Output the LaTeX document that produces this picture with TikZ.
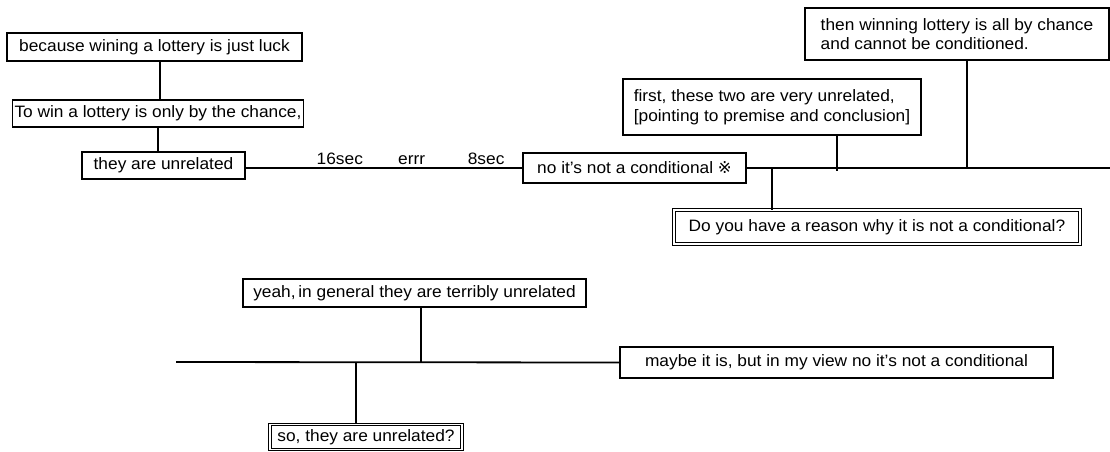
\documentclass[tikz,border=0pt]{standalone}
\usepackage{fontspec}
\setmainfont[FakeStretch=1.05]{Liberation Sans}
\newfontfamily\symfont{DejaVu Sans}
\begin{document}
\begin{tikzpicture}[x=1pt, y=-1pt,
    box/.style={draw, line width=1.9pt, inner sep=2pt, align=left,
      font=\fontsize{16.5}{19.5}\selectfont},
    dbox/.style={draw, double, double distance=1.6pt, line width=0.9pt,
      inner sep=2pt, font=\fontsize{16.5}{19.5}\selectfont},
    link/.style={line width=1.8pt},
    lbl/.style={font=\fontsize{16.5}{19.5}\selectfont, inner sep=1pt}]

    \useasboundingbox (0,0) rectangle (1110,451);

    % upper chain
    \node[box, minimum width=295, minimum height=28] (luck) at (154.5,47) {because wining a lottery is just luck};
    \node[box, minimum width=288, minimum height=27] (chance) at (158,113.5) {To win a lottery is only by the chance,};
    \node[box, minimum width=163, minimum height=27] (unrel) at (163.5,165.5) {they are unrelated};
    \node[box, minimum width=223, minimum height=30] (notcond) at (634.5,168) {no it's not a conditional {\symfont ※}};
    \node[box, minimum width=298, minimum height=56] (first) at (772,107) {first, these two are very unrelated,\\{}[pointing to premise and conclusion]};
    \node[box, minimum width=304, minimum height=52] (then) at (957,34) {then winning lottery is all by chance\\and cannot be conditioned.};
    \node[dbox, minimum width=406, minimum height=34] (reason) at (877,227) {Do you have a reason why it is not a conditional?};

    % lower chain
    \node[box, minimum width=343, minimum height=28] (yeah) at (414.5,293) {yeah,\,in general they are terribly unrelated};
    \node[box, minimum width=433, minimum height=31] (maybe) at (836.5,362.5) {maybe it is, but in my view no it's not a conditional};
    \node[dbox, minimum width=192, minimum height=25] (sothey) at (366,437) {so, they are unrelated?};

    % junctions
    \coordinate (rend) at (1110,168);
    \coordinate (j1) at (837,171);
    \coordinate (j2) at (967,168);
    \coordinate (j3) at (772,168);
    \coordinate (lstart) at (176,362);
    \coordinate (j4) at (421,362);
    \coordinate (j5) at (356,362);

    % connectors
    \draw[link] ([xshift=5.5pt]luck.south) -- ([xshift=5.5pt]luck.south |- chance.north);
    \draw[link] (chance.south) -- (chance.south |- unrel.north);
    \draw[link] (notcond.west -| unrel.east) -- (notcond.west)
      node[lbl, pos=0.34, above=1pt] (t16) {16sec}
      node[lbl, pos=0.60, above=1pt] (terr) {errr}
      node[lbl, pos=0.87, above=1pt] (t8) {8sec};
    \draw[link] (notcond.east) -- (rend);
    \draw[link] (first.south -| j1) -- (j1);
    \draw[link] (then.south -| j2) -- (j2);
    \draw[link] (j3) -- (j3 |- reason.north);
    \draw[link] (lstart) -- (maybe.west);
    \draw[link] (yeah.south -| j4) -- (j4);
    \draw[link] (j5) -- (j5 |- sothey.north);

\end{tikzpicture}
\end{document}
